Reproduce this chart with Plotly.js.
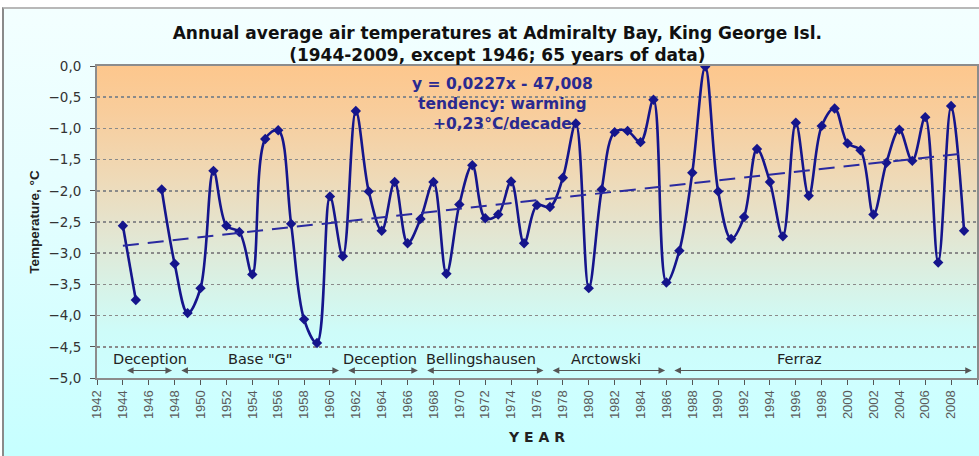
<!DOCTYPE html>
<html>
<head>
<meta charset="utf-8">
<script src="https://cdn.plot.ly/plotly-3.0.1.min.js"></script>
<style>
  html, body { margin: 0; padding: 0; background: #ffffff; width: 979px; height: 456px; overflow: hidden; }
  #frame { position: absolute; left: 2px; top: 7px; width: 977px; height: 449px;
           border-left: 2px solid #8a8a8a; border-top: 2px solid #b8b8b8; box-sizing: border-box;
           background: linear-gradient(to bottom, #f3ffff 0%, #e6feff 40%, #c6ffff 100%); }
  #plotbg { position: absolute; left: 97px; top: 66px; width: 880px; height: 312px;
            background: linear-gradient(to bottom, #fdc78d 0%, #f8cd9c 15%, #efd9b6 35%, #e4e4cf 52%, #d8f2e6 70%, #cefcf9 85%, #ccfefe 100%); }
  #chart { position: absolute; left: 0; top: 0; width: 979px; height: 456px; }
</style>
</head>
<body>
<div id="frame"></div>
<div id="plotbg"></div>
<div id="chart"></div>
<script>
// ---- data ----
const years = [1944,1945,1946,1947,1948,1949,1950,1951,1952,1953,1954,1955,1956,1957,1958,1959,1960,
  1961,1962,1963,1964,1965,1966,1967,1968,1969,1970,1971,1972,1973,1974,1975,1976,1977,1978,1979,
  1980,1981,1982,1983,1984,1985,1986,1987,1988,1989,1990,1991,1992,1993,1994,1995,1996,1997,1998,
  1999,2000,2001,2002,2003,2004,2005,2006,2007,2008,2009];
const temps = [-2.56,-3.75,null,-1.98,-3.17,-3.96,-3.56,-1.68,-2.56,-2.66,-3.34,-1.17,-1.03,-2.53,-4.06,-4.44,-2.09,
  -3.05,-0.72,-2.01,-2.64,-1.86,-2.84,-2.45,-1.86,-3.33,-2.22,-1.59,-2.44,-2.38,-1.85,-2.84,-2.23,-2.26,-1.79,-0.92,
  -3.56,-1.98,-1.06,-1.04,-1.22,-0.54,-3.47,-2.96,-1.71,-0.01,-2.01,-2.77,-2.42,-1.33,-1.86,-2.73,-0.91,-2.08,-0.96,
  -0.68,-1.24,-1.35,-2.38,-1.55,-1.02,-1.52,-0.82,-3.15,-0.64,-2.64];
const trendYears = [1944, 2009];
const trendValues = [-2.88, -1.40];
const stationNames = ['Deception','Base "G"','Deception','Bellingshausen','Arctowski','Ferraz'];
const stationStart = [1944.2, 1948.4, 1961.3, 1967.4, 1977.1, 1986.5];
const stationEnd   = [1947.8, 1960.7, 1966.8, 1976.5, 1985.9, 2009.6];
const stationLabelX = [1946.1, 1954.6, 1963.9, 1971.7, 1981.3, 1996.3];
const yTickVals = [0,-0.5,-1,-1.5,-2,-2.5,-3,-3.5,-4,-4.5,-5];
const equationLines = ['y = 0,0227x - 47,008','tendency: warming','+0,23°C/decade'];

const navy = '#15158c';
const wideFont = 'DejaVu Sans, Arial, sans-serif';

const traces = [
  {
    x: years, y: temps, type: 'scatter', mode: 'lines+markers',
    connectgaps: false,
    line: { color: navy, width: 2.6, shape: 'spline', smoothing: 1 },
    marker: { symbol: 'diamond', size: 8, color: navy },
    hoverinfo: 'x+y'
  },
  {
    x: trendYears, y: trendValues, type: 'scatter', mode: 'lines',
    line: { color: '#2a2aa0', width: 2, dash: '16px,9px' },
    hoverinfo: 'skip'
  }
];

const annotations = [];
stationNames.forEach((n, i) => {
  annotations.push({
    x: stationLabelX[i], y: -4.69, xref: 'x', yref: 'y', text: n, showarrow: false,
    font: { family: wideFont, size: 14.5, color: '#222222' }
  });
  annotations.push({
    x: stationEnd[i], y: -4.88, ax: stationStart[i], ay: -4.88,
    xref: 'x', yref: 'y', axref: 'x', ayref: 'y', text: '',
    showarrow: true, arrowhead: 2, arrowside: 'end+start', arrowsize: 1.1, arrowwidth: 1.2,
    arrowcolor: '#555555'
  });
});
annotations.push({
  x: 1973.3, y: -0.11, xref: 'x', yref: 'y', yanchor: 'top', showarrow: false, align: 'center',
  text: equationLines.join('<br>'),
  font: { family: wideFont, size: 15.5, color: '#2a2a90', weight: 'bold' }
});

const layout = {
  width: 979, height: 456,
  margin: { l: 97, r: 2, t: 66, b: 78 },
  paper_bgcolor: 'rgba(0,0,0,0)', plot_bgcolor: 'rgba(0,0,0,0)',
  separators: ',.',
  showlegend: false,
  font: { family: 'Arial, Liberation Sans, sans-serif' },
  title: {
    text: '<b>Annual average air temperatures at Admiralty Bay, King George Isl.</b><br><b>(1944-2009, except 1946; 65 years of data)</b>',
    x: 0.508, xanchor: 'center', y: 0.915, yanchor: 'top',
    font: { family: wideFont, size: 17, color: '#111111' }
  },
  xaxis: {
    range: [1942, 2010], tick0: 1942, dtick: 2, tickangle: -90,
    showgrid: false, zeroline: false,
    showline: true, linecolor: '#8c8c8c', linewidth: 2, mirror: true,
    ticks: 'outside', ticklen: 5, tickcolor: '#555555',
    tickfont: { size: 13, color: '#5a5a5a' },
    title: { text: '<b>Y E A R</b>', standoff: 14, font: { family: wideFont, size: 14, color: '#222222' } }
  },
  yaxis: {
    range: [-5, 0], tickvals: yTickVals, tickformat: '.1f',
    showgrid: true, gridcolor: '#8a8a8a', griddash: 'dot', gridwidth: 1.5,
    zeroline: false,
    showline: true, linecolor: '#8c8c8c', linewidth: 2, mirror: true,
    ticks: 'outside', ticklen: 5, tickcolor: '#555555', ticklabelstandoff: 6,
    tickfont: { family: wideFont, size: 13.5, color: '#333333' },
    title: { text: '<b>Temperature, °C</b>', standoff: 6, font: { size: 13.5, color: '#222222' } }
  },
  annotations: annotations
};

Plotly.newPlot('chart', traces, layout, { displayModeBar: false, staticPlot: true });
</script>
</body>
</html>
